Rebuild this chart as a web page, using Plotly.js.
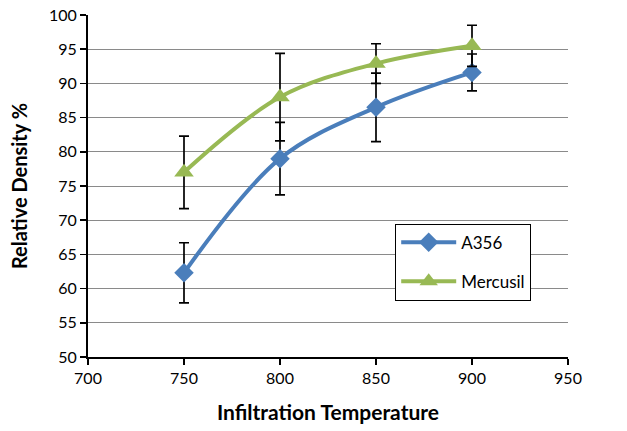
<!DOCTYPE html>
<html><head><meta charset="utf-8">
<script src="https://cdn.plot.ly/plotly-3.0.1.min.js"></script>
<style>html,body{margin:0;padding:0;background:#fff}#c{width:627px;height:431px}</style>
</head><body><div id="c"></div>
<script>
const temps = [750, 800, 850, 900];
const a356 = [62.3, 79.0, 86.5, 91.6];
const a356Err = [4.4, 5.3, 5.0, 2.7];
const mercusil = [77.0, 88.0, 92.9, 95.5];
const mercusilErr = [5.3, 6.4, 2.9, 3.0];
const xTicks = [700, 750, 800, 850, 900, 950];
const yTicks = [50, 55, 60, 65, 70, 75, 80, 85, 90, 95, 100];

const font = "Lato, 'Open Sans', sans-serif";
const traces = [
  {x: temps, y: a356, name: 'A356', type: 'scatter', mode: 'lines+markers', legendgroup: 'a',
   line: {color: '#4a7ebb', width: 4, shape: 'spline'},
   marker: {symbol: 'diamond', size: 15, color: '#4a7ebb'},
   error_y: {type: 'data', array: a356Err, visible: true, color: '#000', thickness: 1.7, width: 5}},
  {x: temps, y: mercusil, name: 'Mercusil', type: 'scatter', mode: 'lines+markers', legendgroup: 'b',
   line: {color: '#98b954', width: 4, shape: 'spline'},
   marker: {symbol: 'triangle-up', size: 17, color: '#98b954'},
   error_y: {type: 'data', array: mercusilErr, visible: true, color: '#000', thickness: 1.7, width: 5}}
];
const layout = {
  width: 627, height: 431,
  margin: {l: 88, r: 59, t: 15, b: 74},
  paper_bgcolor: '#fff', plot_bgcolor: '#fff',
  font: {family: font, size: 16, color: '#000'},
  xaxis: {range: [700, 950], tickvals: xTicks, ticktext: xTicks.map(String),
    showgrid: false, zeroline: false, showline: true, linecolor: '#000', linewidth: 2,
    ticks: 'outside', ticklen: 6, tickwidth: 1.5, tickcolor: '#000',
    tickfont: {family: font, size: 16},
    title: {text: '<b>Infiltration Temperature</b>', font: {family: font, size: 21}, standoff: 19}},
  yaxis: {range: [50, 100], tickvals: yTicks, ticktext: yTicks.map(String),
    showgrid: true, gridcolor: '#8a8a8a', gridwidth: 1, zeroline: false,
    showline: true, linecolor: '#000', linewidth: 2,
    ticks: 'outside', ticklen: 6, tickwidth: 1.5, tickcolor: '#000',
    tickfont: {family: font, size: 16},
    title: {text: '<b>Relative Density %</b>', font: {family: font, size: 20}, standoff: 16}},
  legend: {x: 0.64, y: 0.39, xanchor: 'left', yanchor: 'top',
    bgcolor: '#fff', bordercolor: '#000', borderwidth: 1, itemwidth: 55,
    font: {family: font, size: 17}, traceorder: 'grouped', tracegroupgap: 14},
  showlegend: true
};
Plotly.newPlot('c', traces, layout, {displayModeBar: false, staticPlot: true});
</script></body></html>
